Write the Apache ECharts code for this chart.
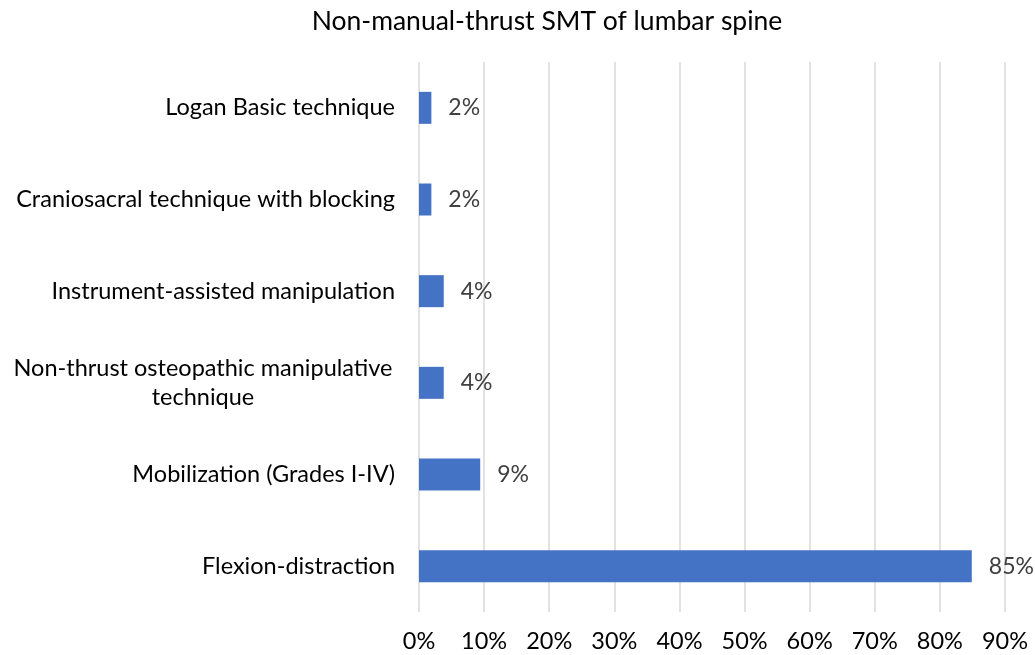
<!DOCTYPE html>
<html>
<head>
<meta charset="utf-8">
<script src="https://cdn.jsdelivr.net/npm/echarts@6/dist/echarts.min.js"></script>
<style>html,body{margin:0;padding:0;background:#fff}#c{width:1035px;height:655px}</style>
</head>
<body>
<div id="c"></div>
<script>
const categories = [
  "Flexion-distraction",
  "Mobilization (Grades I-IV)",
  "Non-thrust osteopathic manipulative technique",
  "Instrument-assisted manipulation",
  "Craniosacral technique with blocking",
  "Logan Basic technique"
];
const values = [84.9, 9.4, 3.8, 3.8, 1.9, 1.9];
const xTicks = [0, 10, 20, 30, 40, 50, 60, 70, 80, 90];
const titleText = "Non-manual-thrust SMT of lumbar spine";

const FONT = "Lato";
const FS = 23.5;
const chart = echarts.init(document.getElementById('c'), null, {renderer: 'canvas'});
chart.setOption({
  animation: false,
  backgroundColor: '#fff',
  title: {
    text: titleText,
    left: 542,
    top: 3,
    textAlign: 'center',
    textStyle: {fontFamily: FONT, fontSize: 26.5, fontWeight: 'normal', color: '#000'}
  },
  grid: {left: 419, right: 30, top: 62, bottom: 43, containLabel: false},
  xAxis: {
    type: 'value',
    min: xTicks[0],
    max: xTicks[xTicks.length - 1],
    interval: 10,
    axisLine: {show: false},
    axisTick: {show: false},
    splitLine: {show: true, lineStyle: {color: '#d9d9d9', width: 1.5}},
    axisLabel: {
      margin: 17,
      fontFamily: FONT, fontSize: FS, color: '#000',
      formatter: v => v + '%'
    }
  },
  yAxis: {
    type: 'category',
    data: categories,
    axisLine: {show: false},
    axisTick: {show: false},
    axisLabel: {
      margin: 24,
      fontFamily: FONT, fontSize: FS, color: '#000',
      formatter: v => {
        if (v.indexOf('manipulative technique') >= 0) {
          return '{c|Non-thrust osteopathic manipulative}\n{c|technique}';
        }
        return v;
      },
      rich: {c: {width: 384, align: 'center', fontFamily: FONT, fontSize: FS, color: '#000', lineHeight: 29}}
    }
  },
  series: [{
    type: 'bar',
    data: values,
    barWidth: 32,
    itemStyle: {color: '#4472C4'},
    label: {
      show: true,
      position: 'right',
      distance: 17,
      fontFamily: FONT, fontSize: 23, color: '#404040',
      formatter: p => Math.round(p.value) + '%'
    }
  }]
});
</script>
</body>
</html>
